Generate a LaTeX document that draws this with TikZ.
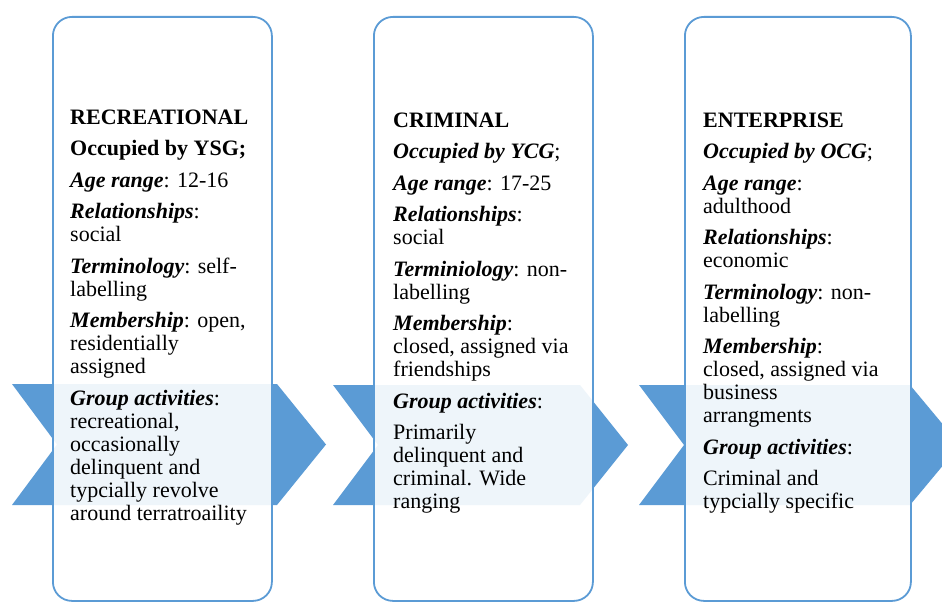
\documentclass[tikz,border=0pt]{standalone}
\usepackage{fontspec}
\setmainfont{Liberation Serif}
\definecolor{accent}{HTML}{5B9BD5}
\newcommand\bitlab[1]{\textbf{\textit{#1}}}
\begin{document}
\begin{tikzpicture}[x=1pt,y=-1pt,
  chev/.style={fill=accent, draw=none},
  card/.style={draw=accent, line width=1.8pt, fill=white, fill opacity=0.9, rounded corners=19pt, inner sep=0pt, anchor=north west},
  txt/.style={anchor=base west, inner sep=0pt, text=black}]
\useasboundingbox (0,0) rectangle (942,602);
% chevrons
\fill[chev] (12,384) -- (277,384) -- (326,444.5) -- (277,505) -- (12,505) -- (57,444.5) -- cycle;
\fill[chev] (333,385) -- (580,385) -- (628,445) -- (580,505) -- (333,505) -- (378,445) -- cycle;
\fill[chev] (639,385) -- (910,385) -- (960,445) -- (910,505) -- (639,505) -- (684,445) -- cycle;
% cards
\node[card, minimum width=219pt, minimum height=584pt] (c1) at (52,16) {};
\node[card, minimum width=219pt, minimum height=584pt] (c2) at (373,16) {};
\node[card, minimum width=226pt, minimum height=584pt] (c3) at (684,16) {};
% texts
\node[txt] (t1) at (70,124) {\parbox[t]{200pt}{\fontsize{22}{23}\selectfont\raggedright
\textbf{RECREATIONAL}\\[8.5pt]
\textbf{Occupied by YSG;}\\[8.5pt]
\bitlab{Age range}: 12-16\\[8.5pt]
\bitlab{Relationships}:\\ social\\[8.5pt]
\bitlab{Terminology}: self-\\labelling\\[8.5pt]
\bitlab{Membership}: open,\\ residentially\\ assigned\\[8.5pt]
\bitlab{Group activities}:\\ recreational,\\ occasionally\\ delinquent and\\ typcially revolve\\ around terratroaility}};
\node[txt] (t2) at (393,127) {\parbox[t]{200pt}{\fontsize{22}{23}\selectfont\raggedright
\textbf{CRIMINAL}\\[8.5pt]
\bitlab{Occupied by YCG};\\[8.5pt]
\bitlab{Age range}: 17-25\\[8.5pt]
\bitlab{Relationships}:\\ social\\[8.5pt]
\bitlab{Terminiology}: non-\\labelling\\[8.5pt]
\bitlab{Membership}:\\ closed, assigned via\\ friendships\\[8.5pt]
\bitlab{Group activities}:\\[8.5pt]
Primarily\\ delinquent and\\ criminal. Wide\\ ranging}};
\node[txt] (t3) at (703,127) {\parbox[t]{200pt}{\fontsize{22}{23}\selectfont\raggedright
\textbf{ENTERPRISE}\\[8.5pt]
\bitlab{Occupied by OCG};\\[8.5pt]
\bitlab{Age range}:\\ adulthood\\[8.5pt]
\bitlab{Relationships}:\\ economic\\[8.5pt]
\bitlab{Terminology}: non-\\labelling\\[8.5pt]
\bitlab{Membership}:\\ closed, assigned via\\ business\\ arrangments\\[8.5pt]
\bitlab{Group activities}:\\[8.5pt]
Criminal and\\ typcially specific}};
\end{tikzpicture}
\end{document}
